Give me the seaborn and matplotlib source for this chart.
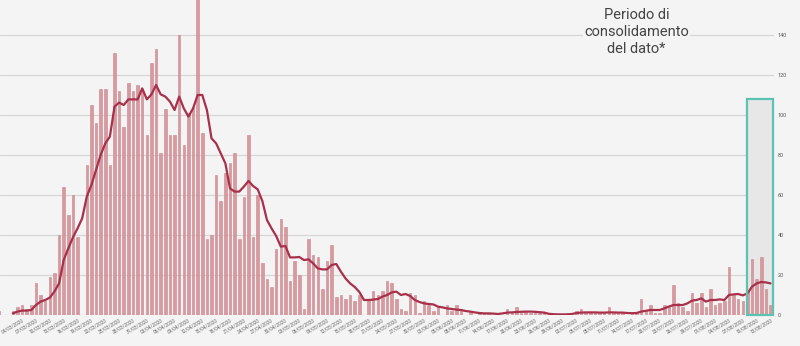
import matplotlib
matplotlib.use("Agg")
import matplotlib.pyplot as plt
import matplotlib.patches as mpatches
import numpy as np
import pandas as pd
import seaborn as sns
from datetime import date, timedelta

# ---------------- data ----------------
start_date = date(2020, 2, 28)

daily_values = [
    2, 0, 0, 2, 4, 5, 3, 5, 16, 10,
    7, 19, 21, 40, 64, 50, 60, 39, 0, 75,
    105, 96, 113, 113, 75, 131, 112, 94, 116, 112,
    115, 113, 90, 126, 133, 81, 103, 90, 90, 140,
    85, 101, 104, 170, 91, 38, 40, 70, 57, 71,
    76, 81, 38, 59, 90, 39, 60, 26, 18, 14,
    33, 48, 44, 17, 27, 20, 3, 38, 30, 29,
    13, 27, 35, 9, 10, 8, 10, 7, 10, 0,
    8, 12, 10, 12, 17, 16, 8, 3, 2, 11,
    10, 1, 7, 5, 2, 4, 0, 5, 2, 5,
    3, 0, 2, 0, 1, 1, 1, 0, 1, 0,
    3, 1, 4, 1, 2, 1, 2, 1, 1, 0,
    0, 0, 0, 1, 0, 2, 3, 1, 1, 1,
    1, 1, 4, 1, 1, 1, 0, 1, 1, 8,
    2, 5, 1, 1, 5, 4, 15, 6, 4, 2,
    11, 6, 11, 4, 13, 5, 6, 7, 24, 10,
    8, 7, 12, 28, 18, 29, 13, 5,
]

moving_avg = [
    None, None, None, 0.8, 1.7, 2.2, 2.2, 2.5, 5.0, 6.7,
    7.5, 8.7, 11.7, 15.8, 27.5, 33.3, 38.8, 43.3, 48.3, 59.2,
    65.0, 72.5, 80.0, 85.8, 89.2, 104.2, 106.2, 105.0, 107.8, 107.8,
    107.8, 113.3, 107.8, 110.3, 115.0, 110.3, 109.2, 106.7, 102.5, 109.2,
    103.3, 99.2, 103.3, 110.0, 110.0, 102.5, 88.3, 85.8, 80.8, 75.8,
    63.3, 61.7, 61.7, 64.2, 67.0, 64.5, 62.8, 57.0, 47.5, 43.3,
    39.5, 34.2, 34.5, 28.8, 28.8, 29.0, 27.5, 27.8, 25.8, 23.3,
    22.8, 22.8, 25.0, 25.5, 21.7, 18.3, 15.8, 14.0, 11.5, 7.5,
    7.5, 7.7, 8.0, 9.2, 10.0, 11.3, 11.7, 10.0, 10.5, 9.5,
    7.5, 6.5, 5.8, 5.5, 5.3, 4.2, 3.8, 3.3, 3.0, 2.7,
    2.5, 2.0, 1.7, 1.3, 1.0, 0.8, 0.8, 0.7, 0.5, 0.8,
    1.2, 1.3, 1.5, 1.6, 1.7, 1.7, 1.6, 1.4, 1.2, 0.6,
    0.4, 0.3, 0.3, 0.3, 0.5, 1.0, 1.2, 1.3, 1.3, 1.3,
    1.2, 1.2, 1.3, 1.3, 1.2, 1.2, 1.0, 0.9, 1.0, 1.7,
    2.1, 2.5, 2.5, 2.5, 3.3, 4.2, 5.0, 5.0, 5.0, 5.8,
    7.2, 7.5, 8.3, 6.7, 7.5, 7.5, 7.8, 7.5, 10.0, 10.3,
    10.5, 9.8, 10.8, 14.2, 15.8, 16.5, 16.3, 15.8,
]

y_ticks = [0, 20, 40, 60, 80, 100, 120, 140]
label_every = 3
first_label_index = 5          # 04/03/2020
highlight_from_index = 162     # start of "periodo di consolidamento"
highlight_top = 108
annotation_text = "Periodo di\nconsolidamento\ndel dato*"

# ---------------- table ----------------
dates = [start_date + timedelta(days=i) for i in range(len(daily_values))]
df = pd.DataFrame({
    "pos": np.arange(len(daily_values)),
    "date": [d.strftime("%d/%m/%Y") for d in dates],
    "value": daily_values,
    "avg": pd.array(moving_avg, dtype="Float64").astype(float),
})

# ---------------- style ----------------
bg = "#f4f4f4"
sns.set_theme(style="white")
plt.rcParams["font.family"] = ["Roboto", "DejaVu Sans"]

fig = plt.figure(figsize=(8.0, 3.46), dpi=100, facecolor=bg)
ax = fig.add_axes([0.0, 1 - 315 / 346, 774 / 800, 315 / 346])
ax.set_facecolor(bg)

n = len(daily_values)
rx0 = highlight_from_index - 0.05
rw = (n - 1 + 0.45) - rx0

# highlight fill (above grid, behind bars)
ax.add_patch(mpatches.Rectangle((rx0, 0), rw, highlight_top,
                                facecolor="#e7e7e7", edgecolor="none", zorder=0.8))

sns.barplot(data=df, x="pos", y="value", color="#d8999f", saturation=1,
            width=0.55, edgecolor="#c9868d", linewidth=0.4, ax=ax, zorder=2)
sns.lineplot(data=df, x="pos", y="avg", color="#a8304a", linewidth=1.6,
             ax=ax, zorder=3)

ax.add_patch(mpatches.Rectangle((rx0, 0), rw, highlight_top,
                                facecolor="none", edgecolor="#5cc2b2",
                                linewidth=1.6, zorder=4, clip_on=False))

# axes limits / grid
ax.set_xlim(0.216, 0.216 + 774 / 4.62)
ax.set_ylim(0, 157.5)
ax.set_yticks(y_ticks)
ax.yaxis.grid(True, color="#d6d6d6", linewidth=0.9)
ax.xaxis.grid(False)
ax.set_axisbelow(True)
for s in ax.spines.values():
    s.set_visible(False)

ax.yaxis.tick_right()
ax.tick_params(axis="y", length=0, pad=2.5, labelsize=4.0, labelcolor="#555555")
ax.tick_params(axis="x", length=0, pad=2.0, labelsize=3.4, labelcolor="#666666")

tick_pos = list(range(first_label_index, n, label_every))
ax.set_xticks(tick_pos)
ax.set_xticklabels([df["date"][i] for i in tick_pos], rotation=30,
                   ha="right", va="top", rotation_mode="anchor")
ax.set_xlabel("")
ax.set_ylabel("")

fig.text(636.5 / 800, 1 - 32 / 346, annotation_text, ha="center", va="center",
         fontsize=10.5, color="#444444", linespacing=1.28,
         bbox=dict(facecolor=bg, edgecolor="none", pad=0.5))

fig.savefig("out.png", dpi=100, facecolor=bg)
